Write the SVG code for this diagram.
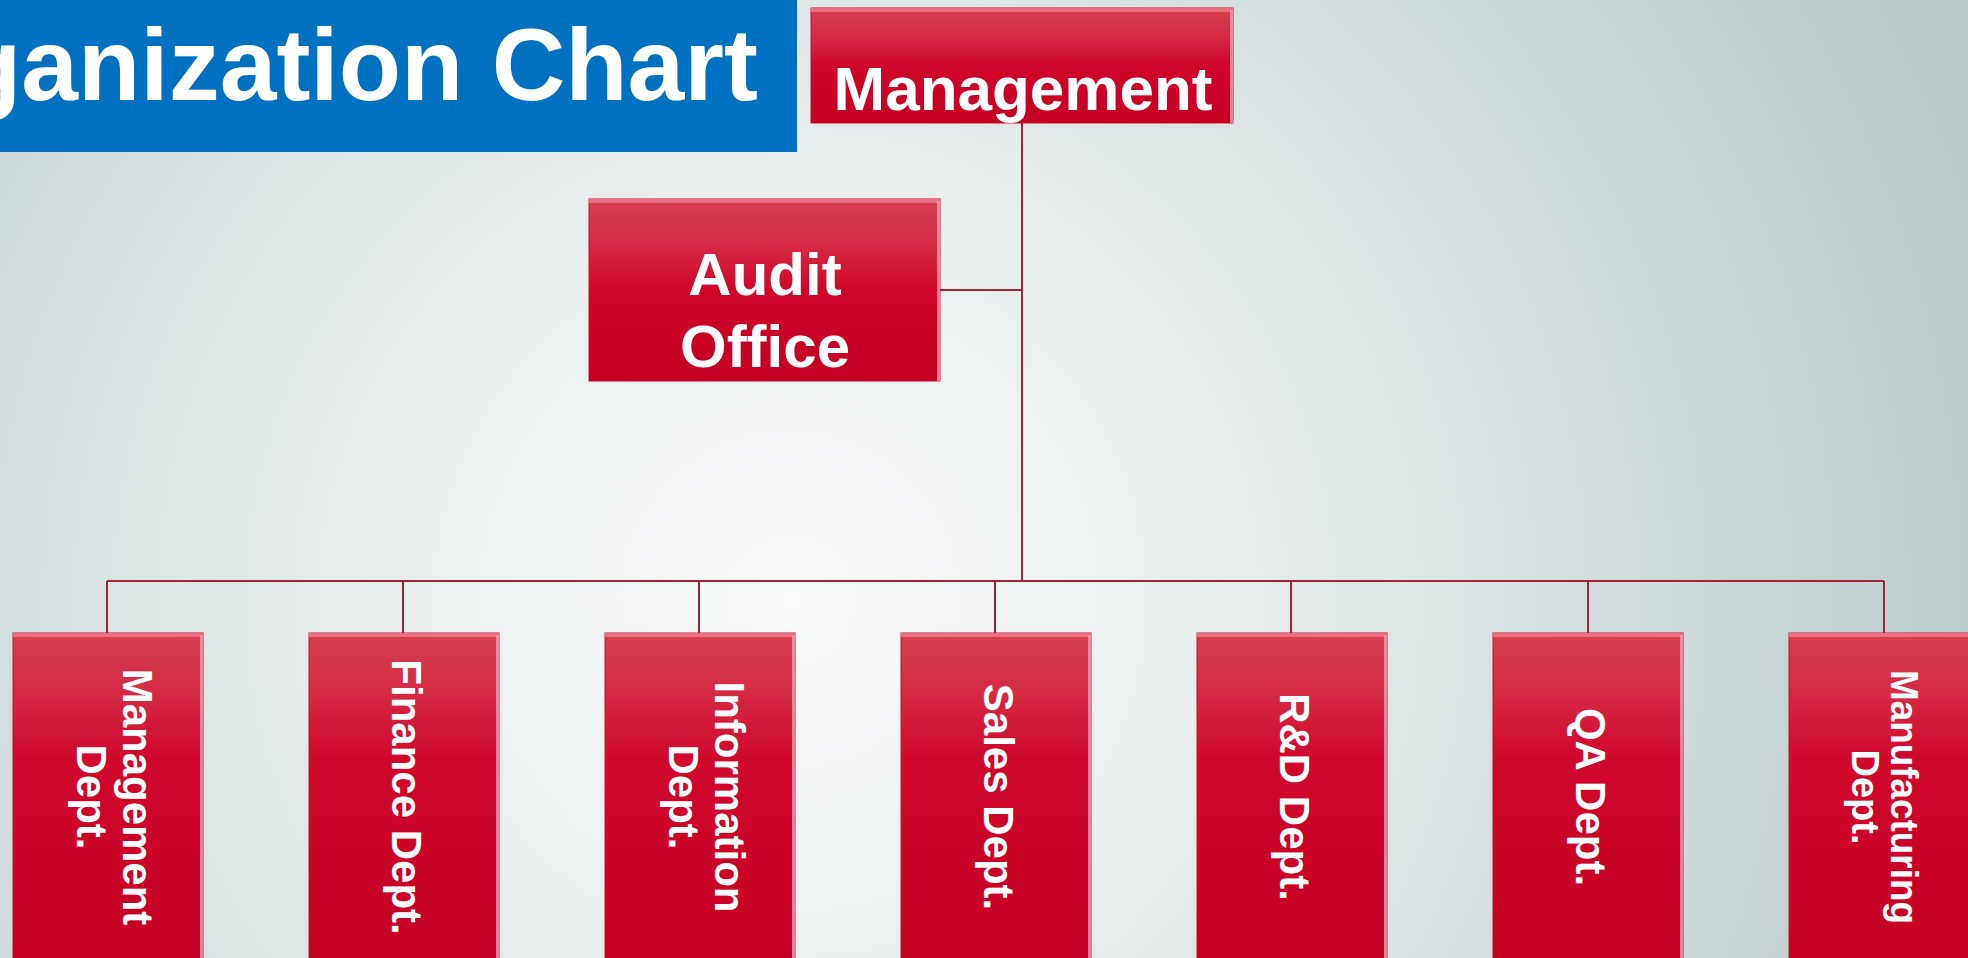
<svg xmlns="http://www.w3.org/2000/svg" width="1968" height="958" viewBox="0 0 1968 958">
<defs>
<radialGradient id="bg" cx="790" cy="600" r="1250" gradientUnits="userSpaceOnUse">
<stop offset="0" stop-color="#fafbfb"/>
<stop offset="0.35" stop-color="#e8eded"/>
<stop offset="0.7" stop-color="#cfdada"/>
<stop offset="1" stop-color="#b7cac9"/>
</radialGradient>
<linearGradient id="red" x1="0" y1="0" x2="0" y2="1">
<stop offset="0" stop-color="#d4404f"/>
<stop offset="0.25" stop-color="#d42a42"/>
<stop offset="0.5" stop-color="#d0062a"/>
<stop offset="1" stop-color="#c40022"/>
</linearGradient>
<linearGradient id="redtall" x1="0" y1="0" x2="0" y2="1">
<stop offset="0" stop-color="#d4404f"/>
<stop offset="0.18" stop-color="#d42a42"/>
<stop offset="0.38" stop-color="#d0082c"/>
<stop offset="1" stop-color="#c40022"/>
</linearGradient>
<style>
.box{fill:url(#red);stroke:#c8102e;stroke-width:1}
.tall{fill:url(#redtall);stroke:#c8102e;stroke-width:1}
.hl{fill:#f07888;opacity:0.85}
.rh{fill:#f0a0b4;opacity:0.8}
.lbl{font-family:"Liberation Sans",Arial,sans-serif;font-weight:bold;fill:#ffffff;text-anchor:middle}
.conn{stroke:#9e2538;stroke-width:2;fill:none}
</style>
</defs>
<rect x="0" y="0" width="1968" height="958" fill="url(#bg)"/>
<g id="title">
<rect x="0" y="0" width="797" height="152" fill="#0070c0"/>
<text x="758" y="100" font-family="'Liberation Sans',Arial,sans-serif" font-weight="bold" font-size="102" fill="#ffffff" text-anchor="end">Organization Chart</text>
</g>
<g id="connectors">
<path class="conn" d="M1022,123 V581"/>
<path class="conn" d="M940,290 H1022"/>
<path class="conn" d="M107,581 H1884"/>
<path class="conn" d="M107,581 V633 M403,581 V633 M699,581 V633 M995,581 V633 M1291,581 V633 M1588,581 V633 M1884,581 V633"/>
</g>
<g id="management">
<rect class="box" x="811" y="8" width="422" height="115"/>
<rect class="hl" x="811" y="8" width="422" height="4"/>
<rect class="rh" x="1230" y="10" width="3" height="113"/>
<text class="lbl" x="1023" y="110" font-size="62">Management</text>
</g>
<g id="audit-office">
<rect class="box" x="589" y="199" width="351" height="182"/>
<rect class="hl" x="589" y="199" width="351" height="4"/>
<rect class="rh" x="937" y="201" width="3" height="180"/>
<text class="lbl" x="765" y="295" font-size="60">Audit</text>
<text class="lbl" x="765" y="367" font-size="60">Office</text>
</g>
<g id="management-dept">
<rect class="tall" x="13" y="633" width="190" height="330"/>
<rect class="hl" x="13" y="633" width="190" height="4"/>
<rect class="rh" x="200" y="635" width="3" height="330"/>
<g transform="translate(108,797) rotate(90)">
<text class="lbl" x="0" y="-15" font-size="42">Management</text>
<text class="lbl" x="0" y="31" font-size="42">Dept.</text>
</g>
</g>
<g id="finance-dept">
<rect class="tall" x="309" y="633" width="190" height="330"/>
<rect class="hl" x="309" y="633" width="190" height="4"/>
<rect class="rh" x="496" y="635" width="3" height="330"/>
<g transform="translate(404,797) rotate(90)">
<text class="lbl" x="0" y="12" font-size="42">Finance Dept.</text>
</g>
</g>
<g id="information-dept">
<rect class="tall" x="605" y="633" width="190" height="330"/>
<rect class="hl" x="605" y="633" width="190" height="4"/>
<rect class="rh" x="792" y="635" width="3" height="330"/>
<g transform="translate(700,797) rotate(90)">
<text class="lbl" x="0" y="-15" font-size="42">Information</text>
<text class="lbl" x="0" y="31" font-size="42">Dept.</text>
</g>
</g>
<g id="sales-dept">
<rect class="tall" x="901" y="633" width="190" height="330"/>
<rect class="hl" x="901" y="633" width="190" height="4"/>
<rect class="rh" x="1088" y="635" width="3" height="330"/>
<g transform="translate(996,797) rotate(90)">
<text class="lbl" x="0" y="12" font-size="42">Sales Dept.</text>
</g>
</g>
<g id="rd-dept">
<rect class="tall" x="1197" y="633" width="190" height="330"/>
<rect class="hl" x="1197" y="633" width="190" height="4"/>
<rect class="rh" x="1384" y="635" width="3" height="330"/>
<g transform="translate(1292,797) rotate(90)">
<text class="lbl" x="0" y="12" font-size="42">R&amp;D Dept.</text>
</g>
</g>
<g id="qa-dept">
<rect class="tall" x="1493" y="633" width="190" height="330"/>
<rect class="hl" x="1493" y="633" width="190" height="4"/>
<rect class="rh" x="1680" y="635" width="3" height="330"/>
<g transform="translate(1588,797) rotate(90)">
<text class="lbl" x="0" y="12" font-size="42">QA Dept.</text>
</g>
</g>
<g id="manufacturing-dept">
<rect class="tall" x="1789" y="633" width="190" height="330"/>
<rect class="hl" x="1789" y="633" width="190" height="4"/>
<g transform="translate(1884,797) rotate(90)">
<text class="lbl" x="0" y="-7" font-size="38" textLength="254" lengthAdjust="spacingAndGlyphs">Manufacturing</text>
<text class="lbl" x="0" y="32" font-size="38">Dept.</text>
</g>
</g>
</svg>
